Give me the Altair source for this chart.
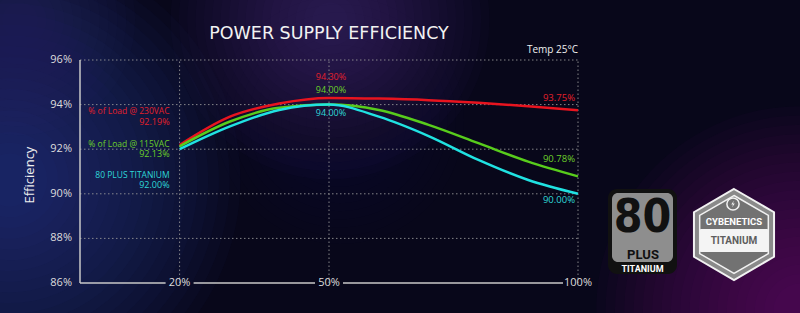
import altair as alt
import pandas as pd

# ---- data -------------------------------------------------------------
load = [20, 30, 40, 50, 60, 70, 80, 90, 100]
eff_230 = [92.19, 93.45, 94.05, 94.30, 94.27, 94.20, 94.08, 93.93, 93.75]
eff_115 = [92.13, 93.23, 93.86, 94.00, 93.76, 93.09, 92.27, 91.44, 90.78]
eff_titanium = [92.00, 93.01, 93.76, 94.00, 93.46, 92.59, 91.52, 90.62, 90.00]

series_names = ["% of Load @ 230VAC", "% of Load @ 115VAC", "80 PLUS TITANIUM"]
series_values = [eff_230, eff_115, eff_titanium]
line_colors = ["#e8141f", "#58cc1c", "#20e2e2"]
text_colors = ["#e3202b", "#6cd02a", "#2ed8d8"]

y_ticks = [86, 88, 90, 92, 94, 96]
y_tick_labels = ["86%", "88%", "90%", "92%", "94%", "96%"]
x_ticks = [20, 50, 100]
x_tick_labels = ["20%", "50%", "100%"]
labeled_loads = [20, 50, 100]

# ---- style ------------------------------------------------------------
FONT = "Open Sans"
BG = "#08071a"
AXIS_GREY = "#c8c8c8"
W, H = 498, 223

X_SCALE = alt.Scale(domain=[0, 100], nice=False, zero=False)
Y_SCALE = alt.Scale(domain=[86, 96], nice=False, zero=False)
X_ENC = alt.X("load:Q", scale=X_SCALE, axis=None)
Y_ENC = alt.Y("eff:Q", scale=Y_SCALE, axis=None)


def xd(v):
    return alt.X(datum=v, scale=X_SCALE, axis=None)


def yd(v):
    return alt.Y(datum=v, scale=Y_SCALE, axis=None)


one = pd.DataFrame({"k": [0]})

# ---- background haze: stacks of translucent discs -------------------------
def haze(cx, cy, d_min, d_max, steps, color, alpha):
    sizes = pd.DataFrame({"s": [
        (d_min + (d_max - d_min) * i / (steps - 1)) ** 2 * 0.785 for i in range(steps)
    ]})
    return alt.Chart(sizes).mark_point(
        shape="circle", filled=True, fill=color, opacity=alpha, strokeWidth=0
    ).encode(x=alt.value(cx), y=alt.value(cy), size=alt.Size("s:Q", scale=None, legend=None))

background = [
    haze(-70, 120, 60, 520, 20, "#2c3a9a", 0.045),
    haze(-60, -40, 40, 260, 12, "#3a2a80", 0.04),
    haze(250, -40, 40, 360, 18, "#6a3ca0", 0.03),
    haze(260, 60, 40, 280, 14, "#3c2468", 0.025),
    haze(720, 250, 60, 460, 20, "#8a2a8a", 0.035),
]

# ---- grid ---------------------------------------------------------------
grid_dash = dict(color="#9a9a9a", strokeDash=[1.5, 2.5], strokeWidth=1, opacity=0.85)
hgrid = alt.Chart(pd.DataFrame({"eff": y_ticks})).mark_rule(**grid_dash).encode(
    y=Y_ENC, x=xd(0), x2=alt.datum(100)
).transform_filter("datum.eff > 86")
vgrid = alt.Chart(pd.DataFrame({"load": x_ticks})).mark_rule(**grid_dash).encode(
    x=X_ENC, y=yd(86), y2=alt.datum(96)
)

# ---- left axis ------------------------------------------------------------
y_line = alt.Chart(one).mark_rule(color=AXIS_GREY, strokeWidth=1.5).encode(
    x=xd(0), y=yd(86), y2=alt.datum(96)
)
y_labels = alt.Chart(pd.DataFrame({"eff": y_ticks, "lab": y_tick_labels})).mark_text(
    font=FONT, fontSize=11, color="#dddddd", align="right", baseline="middle", dx=-8
).encode(x=xd(0), y=Y_ENC, text="lab:N")
y_title = alt.Chart(pd.DataFrame({"t": ["Efficiency"]})).mark_text(
    font=FONT, fontSize=13, color="#eeeeee", align="center", baseline="middle", angle=270
).encode(x=alt.value(-50), y=alt.value(115), text="t:N")

# ---- bottom axis: line broken around the labels that sit on it ----------
seg_start = [0] + x_ticks[:-1]
seg_end = x_ticks
base_segments = []
for i, (a, b) in enumerate(zip(seg_start, seg_end)):
    gap_left = 0 if i == 0 else 14
    gap_right = 15 if b == 100 else 14
    base_segments.append(
        alt.Chart(one).mark_rule(color=AXIS_GREY, strokeWidth=1.5,
                                 xOffset=gap_left, x2Offset=-gap_right)
        .encode(x=xd(a), x2=alt.datum(b), y=yd(86))
    )
xlab = alt.Chart(pd.DataFrame({"load": x_ticks, "lab": x_tick_labels})).mark_text(
    font=FONT, fontSize=11, baseline="middle", color="#dddddd"
).encode(x=X_ENC, y=yd(86), text="lab:N")

# ---- curves -------------------------------------------------------------
curve_df = pd.concat(
    [pd.DataFrame({"load": load, "eff": v, "series": n})
     for n, v in zip(series_names, series_values)],
    ignore_index=True,
)
curves = alt.Chart(curve_df).mark_line(interpolate="monotone", strokeWidth=2.5).encode(
    x=X_ENC,
    y=Y_ENC,
    color=alt.Color("series:N", scale=alt.Scale(domain=series_names, range=line_colors), legend=None),
)

# ---- value annotations ----------------------------------------------------
# offsets (px) of each series' annotations from the point they describe
offsets = [
    dict(name=-33.5, start=-23, peak=-20.5, end=-12.5),
    dict(name=-2.5, start=8, peak=-14.6, end=-17.4),
    dict(name=25.5, start=36, peak=8.5, end=6),
]

annotations = []
for name, vals, col, off in zip(series_names, series_values, text_colors, offsets):
    pts = {l: vals[load.index(l)] for l in labeled_loads}
    first = pd.DataFrame({"load": [20], "eff": [pts[20]], "name": [name],
                          "txt": [f"{pts[20]:.2f}%"]})
    peak = pd.DataFrame({"load": [50], "eff": [pts[50]], "txt": [f"{pts[50]:.2f}%"]})
    last = pd.DataFrame({"load": [100], "eff": [pts[100]], "txt": [f"{pts[100]:.2f}%"]})
    common = dict(font=FONT, color=col, baseline="middle")
    annotations += [
        alt.Chart(first).mark_text(align="right", dx=-10, dy=off["name"], fontSize=8.5, **common)
        .encode(x=X_ENC, y=Y_ENC, text="name:N"),
        alt.Chart(first).mark_text(align="right", dx=-10, dy=off["start"], fontSize=9, **common)
        .encode(x=X_ENC, y=Y_ENC, text="txt:N"),
        alt.Chart(peak).mark_text(align="center", dx=2, dy=off["peak"], fontSize=9, **common)
        .encode(x=X_ENC, y=Y_ENC, text="txt:N"),
        alt.Chart(last).mark_text(align="right", dx=-3, dy=off["end"], fontSize=9.5, **common)
        .encode(x=X_ENC, y=Y_ENC, text="txt:N"),
    ]

# ---- headings -------------------------------------------------------------
title = alt.Chart(pd.DataFrame({"t": ["POWER SUPPLY EFFICIENCY"]})).mark_text(
    font="DejaVu Sans", fontSize=17.5, color="#f2f2f2", align="center", baseline="middle"
).encode(x=xd(50), y=alt.value(-26), text="t:N")
temp = alt.Chart(pd.DataFrame({"t": ["Temp 25°C"]})).mark_text(
    font=FONT, fontSize=10, color="#f0f0f0", align="right", baseline="middle"
).encode(x=xd(100), y=alt.value(-10), text="t:N")

# ---- certification badges -------------------------------------------------
def txt(s, x, y, size, color, weight="bold", font=FONT):
    return alt.Chart(pd.DataFrame({"t": [s]})).mark_text(
        font=font, fontSize=size, fontWeight=weight, color=color,
        align="center", baseline="middle"
    ).encode(x=alt.value(x), y=alt.value(y), text="t:N")

def box(x, x2, y, y2, fill, radius):
    return alt.Chart(one).mark_rect(fill=fill, cornerRadius=radius).encode(
        x=alt.value(x), x2=alt.value(x2), y=alt.value(y), y2=alt.value(y2)
    )

HEX = "M0,-1 L0.88,-0.49 L0.88,0.49 L0,1 L-0.88,0.49 L-0.88,-0.49 Z"
BOLT = "M0.25,-1 L-0.55,0.15 L0,0.15 L-0.25,1 L0.55,-0.15 L0,-0.15 Z"

def shape(path, x, y, size, fill, stroke=None, sw=0):
    kw = dict(shape=path, size=size, filled=True, fill=fill, opacity=1)
    if stroke:
        kw.update(stroke=stroke, strokeWidth=sw, strokeOpacity=1)
    return alt.Chart(one).mark_point(**kw).encode(x=alt.value(x), y=alt.value(y))

badges = [
    box(528, 597, 129, 214, "#111111", 9),
    box(532, 593, 133, 202, "#8e8e8e", 6),
    txt("80", 562.5, 158, 46, "#111111",
        font="Liberation Sans Narrow, DejaVu Sans Condensed, sans-serif"),
    txt("PLUS", 563, 195, 13, "#111111", font="Liberation Sans Narrow, Roboto, sans-serif"),
    txt("TITANIUM", 562.5, 209, 9, "#ffffff", font="Roboto"),
    shape(HEX, 654, 174.5, 91 * 91, "#8a8a8a", "#f2f2f2", 2),
    shape(HEX, 654, 174.5, 78 * 78, "#727272", "#f2f2f2", 1.5),
    box(620, 688, 169, 192, "#f4f4f4", 1),
    alt.Chart(one).mark_point(shape="circle", size=150, filled=False, stroke="#f2f2f2",
                              strokeWidth=1.5, opacity=1).encode(x=alt.value(653), y=alt.value(144)),
    shape(BOLT, 653, 144, 40, "#f2f2f2"),
    txt("CYBENETICS", 654, 162, 9.5, "#ffffff", font="Roboto"),
    txt("TITANIUM", 654, 181, 10, "#5e5e5e", font="Roboto"),
]

layers = (background
          + [hgrid, vgrid, y_line, y_labels, y_title]
          + base_segments + [xlab, curves]
          + annotations + [title, temp] + badges)

chart = alt.layer(*layers).properties(
    width=W,
    height=H,
    background=BG,
    padding={"left": 80, "top": 60, "right": 222, "bottom": 30},
    autosize=alt.AutoSizeParams(type="none"),
).configure_view(stroke=None)

chart.save("out.html", embed_options={"renderer": "svg", "actions": False})
